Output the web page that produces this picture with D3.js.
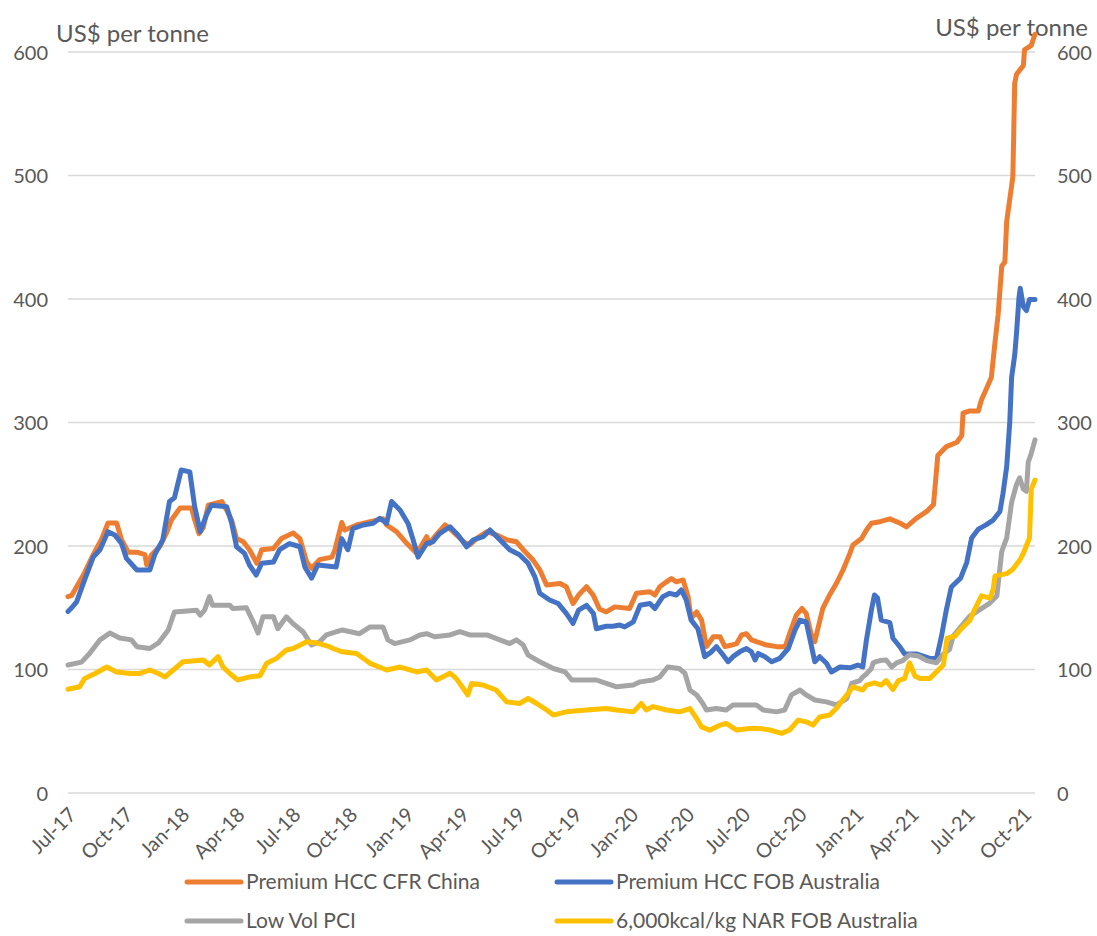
<!DOCTYPE html>
<html><head><meta charset="utf-8">
<script src="https://cdn.jsdelivr.net/npm/d3@7"></script>
<style>html,body{margin:0;padding:0;background:#fff;} svg{display:block;}</style>
</head><body>
<svg id="chart" width="1097" height="936"></svg>
<script>
const premiumCFRChina = [["2017-07-01",159],["2017-07-07",160],["2017-07-15",167],["2017-07-26",176.5],["2017-08-11",193],["2017-08-25",206],["2017-09-04",218.6],["2017-09-18",218.6],["2017-09-26",205],["2017-10-07",195],["2017-10-21",195],["2017-11-03",193],["2017-11-06",184.6],["2017-11-14",193],["2017-11-28",200],["2017-12-08",210.5],["2017-12-16",221],["2017-12-30",230.7],["2018-01-18",230.7],["2018-01-23",221],["2018-01-30",210],["2018-02-06",215],["2018-02-14",233],["2018-03-08",236],["2018-03-16",229],["2018-03-24",221],["2018-04-01",206],["2018-04-12",203.4],["2018-04-22",197],["2018-05-04",186],["2018-05-12",197],["2018-05-31",198],["2018-06-13",206],["2018-07-02",210.5],["2018-07-13",206],["2018-07-24",187],["2018-08-01",182],["2018-08-14",189],["2018-09-03",191],["2018-09-08",197],["2018-09-19",219],["2018-09-24",213],["2018-10-13",217],["2018-11-04",219.7],["2018-11-25",222],["2018-12-01",217],["2018-12-17",211.6],["2019-01-03",202],["2019-01-19",194],["2019-01-27",200.8],["2019-02-04",207.5],["2019-02-09",202],["2019-02-17",207.5],["2019-03-06",217],["2019-03-19",211.6],["2019-04-05",203.4],["2019-04-15",200.8],["2019-04-26",206],["2019-05-13",211.6],["2019-05-28",209],["2019-06-14",205],["2019-06-30",203.4],["2019-07-11",197],["2019-07-27",188.6],["2019-08-07",180.6],["2019-08-18",168.4],["2019-09-09",169.6],["2019-09-19",167],["2019-09-30",153.4],["2019-10-09",160.3],["2019-10-22",167],["2019-11-02",160],["2019-11-12",149],["2019-11-23",146.6],["2019-12-07",150.7],["2019-12-31",149.4],["2020-01-11",161.7],["2020-02-02",163],["2020-02-10",160.3],["2020-02-18",167],["2020-02-29",171],["2020-03-08",173.7],["2020-03-16",171],["2020-03-27",172.5],["2020-04-04",159],["2020-04-09",141.3],["2020-04-18",146.6],["2020-04-26",140],["2020-05-04",118.5],["2020-05-15",126.5],["2020-05-26",126.5],["2020-06-03",118.5],["2020-06-14",119.8],["2020-06-22",121],["2020-06-30",128],["2020-07-08",129],["2020-07-16",124],["2020-07-24",122.5],["2020-08-10",119.8],["2020-08-26",118.5],["2020-09-09",118.5],["2020-09-16",129],["2020-09-27",144],["2020-10-06",149.4],["2020-10-13",145.5],["2020-10-21",129],["2020-10-27",122.5],["2020-11-01",133],["2020-11-09",149.4],["2020-11-20",160.3],["2020-12-01",169.6],["2020-12-12",180.6],["2020-12-23",194],["2020-12-28",200.8],["2021-01-11",206],["2021-01-19",213],["2021-01-27",218.4],["2021-02-10",219.7],["2021-02-26",222],["2021-03-15",218.4],["2021-03-25",215.5],["2021-04-11",222.7],["2021-04-27",228],["2021-05-08",233.6],["2021-05-15",273.3],["2021-05-29",280.5],["2021-06-15",284],["2021-06-23",289.5],["2021-06-25",307.6],["2021-07-06",309.4],["2021-07-20",309.4],["2021-07-25",318.4],["2021-08-02",327.4],["2021-08-10",336.5],["2021-08-16",365],["2021-08-21",387],["2021-08-27",426.7],["2021-09-01",430],["2021-09-04",462.8],["2021-09-12",491.7],["2021-09-14",499],["2021-09-17",574.7],["2021-09-20",582],["2021-10-01",589],["2021-10-03",601.8],["2021-10-14",605.4],["2021-10-20",614.4]];

const premiumFOBAustralia = [["2017-07-01",147],["2017-07-07",150],["2017-07-15",154.7],["2017-07-26",170],["2017-08-11",191],["2017-08-22",197],["2017-09-04",211.6],["2017-09-15",209],["2017-09-26",202],["2017-10-04",190],["2017-10-21",180.6],["2017-11-11",180.6],["2017-11-19",193],["2017-12-02",205],["2017-12-13",236],["2017-12-21",239],["2018-01-01",261.5],["2018-01-15",260],["2018-01-23",231.7],["2018-02-01",211.6],["2018-02-11",225],["2018-02-19",233],["2018-03-16",231.7],["2018-03-24",218.6],["2018-04-01",199.4],["2018-04-14",194],["2018-04-22",184.6],["2018-05-03",176.5],["2018-05-12",186],["2018-05-31",187],["2018-06-10",197],["2018-06-26",202],["2018-07-13",199.4],["2018-07-21",183],["2018-08-01",174],["2018-08-11",184.6],["2018-09-10",183],["2018-09-19",206],["2018-09-29",197],["2018-10-07",214],["2018-10-24",217],["2018-11-09",218.4],["2018-11-20",222.4],["2018-12-01",218.4],["2018-12-09",236],["2018-12-23",229],["2019-01-05",218],["2019-01-13",205],["2019-01-21",191],["2019-02-04",202],["2019-02-14",203.4],["2019-02-25",210],["2019-03-14",215.6],["2019-03-27",209],["2019-04-10",199.4],["2019-04-21",205],["2019-05-07",207.5],["2019-05-18",213],["2019-06-03",205],["2019-06-19",197],["2019-07-05",193],["2019-07-19",186],["2019-07-30",175],["2019-08-07",161.7],["2019-08-23",156.3],["2019-09-06",153.4],["2019-09-19",145.5],["2019-09-30",137.4],["2019-10-09",148],["2019-10-22",152],["2019-11-02",145.5],["2019-11-07",133],["2019-11-23",135],["2019-12-04",135],["2019-12-15",136],["2019-12-23",134.5],["2020-01-06",138.6],["2020-01-17",152],["2020-02-02",153.4],["2020-02-10",149.4],["2020-02-23",159],["2020-03-05",161.7],["2020-03-16",160.3],["2020-03-24",164.4],["2020-04-01",156.3],["2020-04-09",140],["2020-04-20",133],["2020-05-01",110.4],["2020-05-12",114.3],["2020-05-20",118.5],["2020-05-31",111.7],["2020-06-08",106.3],["2020-06-16",110.4],["2020-06-27",114.3],["2020-07-08",117],["2020-07-16",114.3],["2020-07-22",107.7],["2020-07-27",113],["2020-08-07",110.4],["2020-08-18",106.3],["2020-08-31",109],["2020-09-14",117],["2020-09-25",132],["2020-10-03",140],["2020-10-13",138.6],["2020-10-19",125],["2020-10-27",106.3],["2020-11-04",110.4],["2020-11-15",105],["2020-11-23",98],["2020-12-07",102],["2020-12-23",101.4],["2021-01-05",103.6],["2021-01-13",102],["2021-01-19",124],["2021-01-27",148],["2021-02-01",160.3],["2021-02-06",157.8],["2021-02-12",140],["2021-02-26",138],["2021-03-03",125.3],["2021-03-15",118],["2021-03-22",112.6],["2021-04-10",112.6],["2021-05-02",109],["2021-05-13",109],["2021-05-21",127],["2021-05-29",148.6],["2021-06-06",166.8],["2021-06-21",174],["2021-07-01",186.6],["2021-07-09",206.5],["2021-07-20",213.7],["2021-08-02",217.3],["2021-08-13",221],["2021-08-24",228],["2021-08-29",242.6],["2021-09-04",264.3],["2021-09-09",300.4],["2021-09-12",336.5],["2021-09-17",354.5],["2021-09-20",372.6],["2021-09-24",401.4],["2021-09-26",408.7],["2021-10-01",394],["2021-10-06",390.6],["2021-10-11",399.6],["2021-10-20",399.6]];

const lowVolPCI = [["2017-07-01",103.6],["2017-07-23",106],["2017-08-05",113],["2017-08-22",124],["2017-09-07",129.5],["2017-09-23",125.5],["2017-10-12",124],["2017-10-21",118.5],["2017-11-11",117],["2017-11-25",121.5],["2017-12-11",132],["2017-12-21",146.6],["2018-01-26",148],["2018-02-01",144],["2018-02-08",148],["2018-02-16",159],["2018-02-21",152],["2018-03-21",152],["2018-03-26",149.4],["2018-04-17",150],["2018-04-28",138.7],["2018-05-06",129.5],["2018-05-14",142.7],["2018-05-31",142.7],["2018-06-07",133],["2018-06-21",142.7],["2018-07-02",137],["2018-07-18",130.6],["2018-08-01",119.8],["2018-08-14",122.5],["2018-08-25",128],["2018-09-20",132],["2018-10-18",129],["2018-11-04",134.5],["2018-11-25",134.5],["2018-12-03",124],["2018-12-14",121],["2019-01-08",124],["2019-01-24",128],["2019-02-04",129],["2019-02-17",126.5],["2019-03-14",128],["2019-03-30",130.6],["2019-04-15",128],["2019-05-13",128],["2019-06-03",124],["2019-06-19",121],["2019-06-30",124],["2019-07-11",119.8],["2019-07-19",111.7],["2019-08-07",106.3],["2019-08-29",100.8],["2019-09-17",98],["2019-09-28",91.5],["2019-10-22",91.5],["2019-11-07",91.5],["2019-11-23",88.8],["2019-12-10",86],["2020-01-06",87.4],["2020-01-17",90],["2020-02-07",91.5],["2020-02-18",94],["2020-03-02",102],["2020-03-21",100.8],["2020-03-30",96.8],["2020-04-07",83.4],["2020-04-18",79.4],["2020-04-28",72.5],["2020-05-04",67.2],["2020-05-20",68.4],["2020-06-05",67.2],["2020-06-16",71.3],["2020-07-08",71.3],["2020-07-24",71.3],["2020-08-04",67.2],["2020-08-26",65.7],["2020-09-08",67.2],["2020-09-19",79.4],["2020-10-03",83.4],["2020-10-13",79.4],["2020-10-27",75.3],["2020-11-15",73.8],["2020-12-01",71.3],["2020-12-18",76.5],["2020-12-26",88.7],["2021-01-08",91],["2021-01-13",94],["2021-01-19",96.4],["2021-01-27",100.8],["2021-01-30",105.4],["2021-02-04",106.3],["2021-02-10",107.2],["2021-02-20",107.7],["2021-03-01",102],["2021-03-09",105.4],["2021-03-19",107.2],["2021-03-30",112],["2021-04-13",111],["2021-04-27",107.2],["2021-05-13",105.4],["2021-05-24",112.6],["2021-06-03",116.2],["2021-06-09",127],["2021-06-21",134.3],["2021-07-06",143.3],["2021-07-23",148.7],["2021-08-08",154],["2021-08-19",159.6],["2021-08-27",195.7],["2021-09-04",206.5],["2021-09-12",235.4],["2021-09-20",249.8],["2021-09-25",255.2],["2021-10-01",246.2],["2021-10-06",244.4],["2021-10-09",267.9],["2021-10-14",275],["2021-10-20",286]];

const narFOBAustralia = [["2017-07-01",84],["2017-07-20",86],["2017-07-28",92.8],["2017-08-14",96.8],["2017-09-02",102],["2017-09-18",98],["2017-10-10",96.8],["2017-10-26",96.8],["2017-11-11",99.6],["2017-11-25",96.8],["2017-12-06",94],["2017-12-19",99.6],["2018-01-04",106.3],["2018-02-06",107.7],["2018-02-16",103.6],["2018-03-02",110.4],["2018-03-10",102],["2018-03-21",96.8],["2018-04-03",91.5],["2018-04-22",94],["2018-05-09",95],["2018-05-20",105],["2018-06-05",109],["2018-06-21",115.8],["2018-07-02",117],["2018-07-24",122.5],["2018-08-09",121.5],["2018-08-30",118.5],["2018-09-05",117],["2018-09-20",114.3],["2018-10-13",113],["2018-11-04",105],["2018-12-01",99.6],["2018-12-23",102],["2019-01-19",98],["2019-02-04",99.6],["2019-02-20",91.5],["2019-03-14",97],["2019-03-24",92.8],["2019-04-12",79.4],["2019-04-18",88.7],["2019-05-07",87.4],["2019-05-28",83.4],["2019-06-14",73.8],["2019-07-05",72.5],["2019-07-19",76.5],["2019-08-02",72.5],["2019-08-18",67.2],["2019-08-29",63.2],["2019-09-19",65.7],["2019-10-22",67.2],["2019-11-23",68.4],["2019-12-10",67.2],["2020-01-06",65.7],["2020-01-19",72.5],["2020-01-27",67.2],["2020-02-07",70],["2020-02-29",67.2],["2020-03-21",65.7],["2020-04-07",68.4],["2020-04-18",60.3],["2020-04-26",53.5],["2020-05-09",50.9],["2020-05-26",55],["2020-06-05",56.3],["2020-06-22",51],["2020-07-13",52.2],["2020-07-30",52.2],["2020-08-15",51],["2020-09-03",48.3],["2020-09-16",51],["2020-09-30",59],["2020-10-13",57.6],["2020-10-24",55],["2020-11-04",61.6],["2020-11-20",63.2],["2020-12-01",68.4],["2020-12-09",73.8],["2020-12-20",80.6],["2020-12-28",86],["2021-01-13",83.4],["2021-01-19",87.4],["2021-02-01",89.2],["2021-02-12",87.4],["2021-02-20",91],["2021-03-03",83.8],["2021-03-12",91],["2021-03-22",92.8],["2021-03-30",105.4],["2021-04-08",94.6],["2021-04-16",92.8],["2021-05-02",92.8],["2021-05-13",98.2],["2021-05-24",103.6],["2021-05-30",125.3],["2021-06-12",127],["2021-06-21",132.5],["2021-07-06",139.7],["2021-07-14",148.7],["2021-07-25",159.6],["2021-08-08",157.8],["2021-08-13",165],["2021-08-16",175.8],["2021-09-04",177.6],["2021-09-14",181.2],["2021-09-25",188.4],["2021-10-01",193.9],["2021-10-11",206.5],["2021-10-14",246.2],["2021-10-20",253.4]];

const seriesNames = ["Premium HCC CFR China","Premium HCC FOB Australia","Low Vol PCI","6,000kcal/kg NAR FOB Australia"];
const seriesColors = ["#ED7D31","#4472C4","#A5A5A5","#FFC000"];
const yTicks = [0,100,200,300,400,500,600];
const xTickDates = ["2017-07-01","2017-10-01","2018-01-01","2018-04-01","2018-07-01","2018-10-01","2019-01-01","2019-04-01","2019-07-01","2019-10-01","2020-01-01","2020-04-01","2020-07-01","2020-10-01","2021-01-01","2021-04-01","2021-07-01","2021-10-01"];
const xTickLabels = ["Jul-17","Oct-17","Jan-18","Apr-18","Jul-18","Oct-18","Jan-19","Apr-19","Jul-19","Oct-19","Jan-20","Apr-20","Jul-20","Oct-20","Jan-21","Apr-21","Jul-21","Oct-21"];
const axisTitle = "US$ per tonne";

const parse = d3.utcParse("%Y-%m-%d");
const svg = d3.select("#chart");
const FONT = "Lato, 'Open Sans', sans-serif";
const TXT = "#595959";

const x = d3.scaleUtc().domain([parse("2017-07-01"), parse("2021-10-20")]).range([68, 1035]);
const y = d3.scaleLinear().domain([0, 600]).range([793, 52]);

// gridlines
svg.append("g").selectAll("line").data(yTicks).join("line")
  .attr("x1", 68).attr("x2", 1035)
  .attr("y1", d => y(d)).attr("y2", d => y(d))
  .attr("stroke", "#D9D9D9").attr("stroke-width", 1.5);

// left axis labels
const yl = d3.axisLeft(y).tickValues(yTicks).tickSize(0).tickPadding(0);
const gl = svg.append("g").attr("transform", "translate(48,0)").call(yl);
gl.select(".domain").remove();
gl.selectAll("text").attr("font-family", FONT).attr("font-size", 20).attr("fill", TXT).attr("dy", "0.35em");

const yr = d3.axisRight(y).tickValues(yTicks).tickSize(0).tickPadding(0);
const gr = svg.append("g").attr("transform", "translate(1057,0)").call(yr);
gr.select(".domain").remove();
gr.selectAll("text").attr("font-family", FONT).attr("font-size", 20).attr("fill", TXT).attr("dy", "0.35em");

// x axis labels
const xa = d3.axisBottom(x).tickValues(xTickDates.map(parse)).tickSize(0).tickFormat((d,i) => xTickLabels[i]);
const gx = svg.append("g").attr("transform", "translate(0,793)").call(xa);
gx.select(".domain").remove();
gx.selectAll("text")
  .attr("font-family", FONT).attr("font-size", 20).attr("fill", TXT)
  .attr("text-anchor", "end").attr("y", 0).attr("dy", 0)
  .attr("transform", "translate(9,23) rotate(-45)");

// axis titles
svg.append("text").attr("x", 56).attr("y", 42).attr("font-family", FONT).attr("font-size", 24).attr("fill", TXT).text(axisTitle);
svg.append("text").attr("x", 1088).attr("y", 36).attr("text-anchor", "end").attr("font-family", FONT).attr("font-size", 24).attr("fill", TXT).text(axisTitle);

// lines
const line = d3.line().x(d => x(parse(d[0]))).y(d => y(d[1]));
const allSeries = [premiumCFRChina, premiumFOBAustralia, lowVolPCI, narFOBAustralia];
svg.append("g").selectAll("path").data(allSeries).join("path")
  .attr("d", line).attr("fill", "none")
  .attr("stroke", (d,i) => seriesColors[i]).attr("stroke-width", 5)
  .attr("stroke-linejoin", "round").attr("stroke-linecap", "round");

// legend
const legendPos = [[187, 882], [557, 882], [187, 921], [557, 921]];
const lg = svg.append("g").selectAll("g").data(seriesNames).join("g")
  .attr("transform", (d,i) => `translate(${legendPos[i][0]},${legendPos[i][1]})`);
lg.append("line").attr("x1", 0).attr("x2", 54).attr("y1", 0).attr("y2", 0)
  .attr("stroke", (d,i) => seriesColors[i]).attr("stroke-width", 5).attr("stroke-linecap", "round");
lg.append("text").attr("x", 59).attr("y", 0).attr("dy", "0.32em")
  .attr("font-family", FONT).attr("font-size", 21).attr("fill", TXT).text(d => d);
</script>
</body></html>
